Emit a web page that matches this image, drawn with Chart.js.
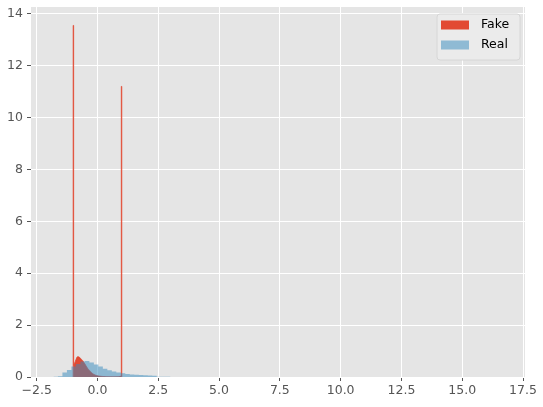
<!DOCTYPE html>
<html><head><meta charset="utf-8">
<script src="https://cdn.jsdelivr.net/npm/chart.js@4.4.1/dist/chart.umd.min.js"></script>
<style>html,body{margin:0;padding:0;background:#fff;}canvas{display:block;}</style>
</head><body>
<canvas id="c" width="543" height="407"></canvas>
<script>
// ---- data (density histograms) ----
const seriesLabels = ['Fake', 'Real'];

const fakeBinStart = -1.0;
const fakeBinWidth = 0.02;
const fakeDensity = [
  13.55,
  0.45, 0.5, 0.55, 0.6, 0.65, 0.7, 0.74, 0.77, 0.78,
  0.78, 0.77, 0.76, 0.74, 0.72, 0.7, 0.68, 0.66, 0.64, 0.62,
  0.6, 0.57, 0.54, 0.51, 0.48, 0.45, 0.42, 0.39, 0.36, 0.33,
  0.3, 0.28, 0.26, 0.24, 0.22, 0.2, 0.18, 0.16, 0.15, 0.13,
  0.12, 0.11, 0.1, 0.09, 0.08, 0.07, 0.065, 0.06, 0.055, 0.05,
  0.045, 0.04, 0.038, 0.035, 0.032, 0.03, 0.028, 0.026, 0.024, 0.022,
  0.02, 0.019, 0.018, 0.017, 0.016, 0.015, 0.014, 0.013, 0.012, 0.012,
  0.011, 0.011, 0.01, 0.01, 0.01, 0.009, 0.009, 0.009, 0.009, 0.008,
  0.008, 0.008, 0.008, 0.008, 0.008, 0.008, 0.009, 0.009, 0.01, 0.01,
  0.011, 0.012, 0.013, 0.014, 0.015, 0.017, 0.02, 0.025, 0.035,
  11.2
];

const realBinStart = -1.811;
const realBinWidth = 0.18469;
const realDensity = [
  0.005, 0.03, 0.17, 0.27, 0.4, 0.5, 0.6, 0.62, 0.56, 0.48,
  0.4, 0.32, 0.26, 0.21, 0.17, 0.14, 0.12, 0.1, 0.085, 0.075,
  0.065, 0.055, 0.045, 0.008, 0.006, 0.005, 0.004, 0.004, 0.003, 0.003,
  0.002, 0.002, 0.002, 0.001, 0.001, 0.001, 0.001, 0.001, 0.001, 0.0,
  0.001, 0.0, 0.001, 0.0, 0.0, 0.001, 0.0, 0.0, 0.0, 0.001,
  0.0, 0.0, 0.0, 0.0, 0.001, 0.0, 0.0, 0.0, 0.0, 0.0,
  0.0, 0.001, 0.0, 0.0, 0.0, 0.0, 0.0, 0.0, 0.0, 0.0,
  0.0, 0.0, 0.0, 0.0, 0.0, 0.0, 0.0, 0.0, 0.0, 0.0,
  0.0, 0.0, 0.0, 0.0, 0.0, 0.0, 0.0, 0.0, 0.0, 0.0,
  0.0, 0.0, 0.0, 0.0, 0.0, 0.0, 0.0, 0.0, 0.0, 0.001
];

const xTicks = [-2.5, 0, 2.5, 5, 7.5, 10, 12.5, 15, 17.5];
const yTicks = [0, 2, 4, 6, 8, 10, 12, 14];
const xRange = [-2.734, 17.582];
const yRange = [0, 14.26];

// ---- build step outlines for the library ----
function histPoints(start, width, dens) {
  const pts = [{x: start, y: 0}];
  dens.forEach((h, i) => pts.push({x: start + i * width, y: h}));
  pts.push({x: start + dens.length * width, y: 0});
  return pts;
}

const FONT = 'DejaVu Sans';
const TICK_COLOR = '#555555';
const FAKE_COLOR = '#E24A33';
const REAL_COLOR = 'rgba(52,138,189,0.5)';

const bgPlugin = {
  id: 'bg',
  beforeDraw(chart) {
    const {ctx, chartArea: a} = chart;
    ctx.save();
    ctx.fillStyle = '#ffffff';
    ctx.fillRect(0, 0, chart.width, chart.height);
    ctx.fillStyle = '#E5E5E5';
    ctx.fillRect(a.left, a.top, a.right - a.left, a.bottom - a.top);
    ctx.restore();
  }
};

const legendPlugin = {
  id: 'mplLegend',
  afterDraw(chart) {
    const ctx = chart.ctx;
    const a = chart.chartArea;
    const bx = a.right - 88, by = a.top + 7, bw = 83, bh = 46, r = 3;
    ctx.save();
    ctx.beginPath();
    ctx.moveTo(bx + r, by);
    ctx.arcTo(bx + bw, by, bx + bw, by + bh, r);
    ctx.arcTo(bx + bw, by + bh, bx, by + bh, r);
    ctx.arcTo(bx, by + bh, bx, by, r);
    ctx.arcTo(bx, by, bx + bw, by, r);
    ctx.closePath();
    ctx.fillStyle = '#EBEBEB';
    ctx.fill();
    ctx.strokeStyle = '#D6D6D6';
    ctx.lineWidth = 1;
    ctx.stroke();
    ctx.font = '12.5px "' + FONT + '"';
    ctx.textBaseline = 'middle';
    seriesLabels.forEach((lab, i) => {
      const ds = chart.data.datasets.find(d => d.label === lab);
      const cy = by + 11 + i * 20;
      ctx.fillStyle = ds.backgroundColor;
      ctx.fillRect(bx + 4, cy - 4.5, 28, 9);
      ctx.fillStyle = '#000000';
      ctx.fillText(lab, bx + 44, cy);
    });
    ctx.restore();
  }
};

const fmtX = v => (v < 0 ? '\u2212' : '') + Math.abs(v).toFixed(1);

new Chart(document.getElementById('c'), {
  type: 'line',
  data: {
    datasets: [
      {
        label: seriesLabels[1],
        data: histPoints(realBinStart, realBinWidth, realDensity),
        stepped: 'before', fill: 'origin',
        backgroundColor: REAL_COLOR, borderColor: 'rgba(0,0,0,0)', borderWidth: 0,
        pointRadius: 0, pointHoverRadius: 0, order: 0
      },
      {
        label: seriesLabels[0],
        data: histPoints(fakeBinStart, fakeBinWidth, fakeDensity),
        stepped: 'before', fill: 'origin',
        backgroundColor: FAKE_COLOR, borderColor: FAKE_COLOR, borderWidth: 0.8,
        pointRadius: 0, pointHoverRadius: 0, order: 1
      }
    ]
  },
  options: {
    responsive: false,
    animation: false,
    devicePixelRatio: 1,
    layout: {padding: {top: 7, right: 18, left: 0, bottom: 0}},
    plugins: {legend: {display: false}, tooltip: {enabled: false}},
    scales: {
      x: {
        type: 'linear', min: xRange[0], max: xRange[1],
        afterBuildTicks: s => { s.ticks = xTicks.map(v => ({value: v})); },
        afterFit: s => { s.height = 30; s.paddingLeft = 0; s.paddingRight = 0; },
        ticks: {callback: fmtX, color: TICK_COLOR, font: {family: FONT, size: 12.5},
                padding: 2, maxRotation: 0, minRotation: 0, autoSkip: false},
        grid: {color: '#ffffff', lineWidth: 1, tickColor: TICK_COLOR, tickLength: 4, tickWidth: 1, drawTicks: true},
        border: {display: false}
      },
      y: {
        type: 'linear', min: yRange[0], max: yRange[1],
        afterBuildTicks: s => { s.ticks = yTicks.map(v => ({value: v})); },
        afterFit: s => { s.width = 31; s.paddingTop = 0; s.paddingBottom = 0; },
        ticks: {callback: v => String(v), color: TICK_COLOR, font: {family: FONT, size: 12.5},
                padding: 4, autoSkip: false},
        grid: {color: '#ffffff', lineWidth: 1, tickColor: TICK_COLOR, tickLength: 4, tickWidth: 1, drawTicks: true},
        border: {display: false}
      }
    }
  },
  plugins: [bgPlugin, legendPlugin]
});
</script>
</body></html>
